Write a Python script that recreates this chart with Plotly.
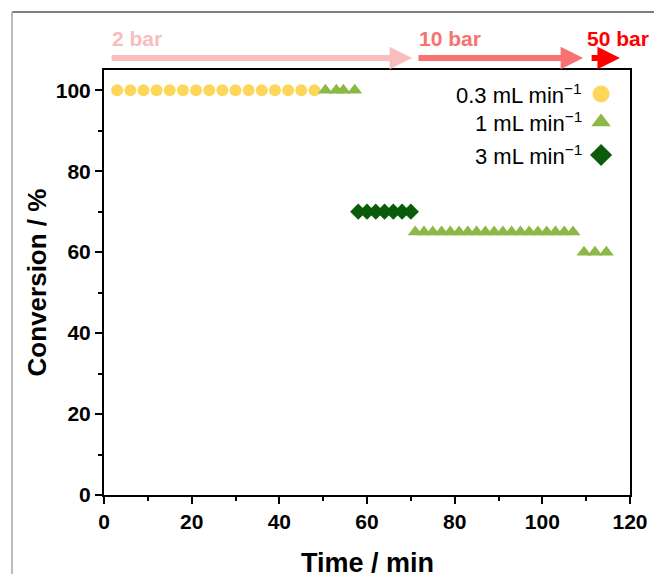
import plotly.graph_objects as go

# ---- data ----
t_03 = [3, 6, 9, 12, 15, 18, 21, 24, 27, 30, 33, 36, 39, 42, 45, 48]
c_03 = [100] * 16

t_1a = [50.5, 53, 54.6, 57.2]
c_1a = [100, 100, 100, 100]
t_1b = [71, 73, 75, 77, 79, 81, 83, 85, 87, 89, 91, 93, 95, 97, 99, 101, 103, 105, 107]
c_1b = [65] * 19
t_1c = [109.5, 112, 114.6]
c_1c = [60, 60, 60]

t_3 = [58, 60, 62, 64, 66, 68, 70]
c_3 = [70] * 7

labels = ["0.3 mL min<sup>−1</sup>", "1 mL min<sup>−1</sup>", "3 mL min<sup>−1</sup>"]
pressure_labels = ["2 bar", "10 bar", "50 bar"]
pressure_start = [1.4, 71.4, 110.9]
pressure_end = [70.3, 109.3, 117.7]
pressure_colors = ["#F9BDBD", "#F87272", "#FF0000"]

YELLOW = "#FDD75C"
LGREEN = "#8CB845"
DGREEN = "#0A5C0A"

FONT = "Liberation Sans, Arial"

fig = go.Figure()
fig.add_trace(go.Scatter(x=t_03, y=c_03, mode="markers",
                         marker=dict(symbol="circle", size=12, color=YELLOW), showlegend=False))
fig.add_trace(go.Scatter(x=t_1a + t_1b + t_1c, y=c_1a + c_1b + c_1c, mode="markers",
                         marker=dict(symbol="triangle-up", size=13, color=LGREEN), showlegend=False))
fig.add_trace(go.Scatter(x=t_3, y=c_3, mode="markers",
                         marker=dict(symbol="diamond", size=12.5, color=DGREEN), showlegend=False))

# legend drawn manually (symbol on the right of text)
leg_y = [0.9435, 0.8776, 0.80]
leg_sym = ["circle", "triangle-up", "diamond"]
leg_col = [YELLOW, LGREEN, DGREEN]
leg_size = [17, 17, 17]
for i in range(3):
    fig.add_trace(go.Scatter(x=[0.945], y=[leg_y[i]], xaxis="x2", yaxis="y2", mode="markers",
                             marker=dict(symbol=leg_sym[i], size=leg_size[i], color=leg_col[i]),
                             showlegend=False, hoverinfo="skip"))
    fig.add_annotation(x=0.913, y=leg_y[i], xref="paper", yref="paper", text=labels[i],
                       showarrow=False, xanchor="right", yanchor="middle",
                       font=dict(family=FONT, size=22, color="black"))

# pressure arrows
label_x = [1.4, 71.4, 109.8]
for i in range(3):
    fig.add_annotation(x=pressure_end[i], y=1.028, xref="x", yref="paper",
                       ax=pressure_start[i], ay=0, axref="x", ayref="pixel",
                       text="", showarrow=True, arrowhead=2, arrowsize=0.75, arrowwidth=6,
                       arrowcolor=pressure_colors[i])
    fig.add_annotation(x=label_x[i], y=1.075, xref="x", yref="paper",
                       text="<b>" + pressure_labels[i] + "</b>", showarrow=False,
                       xanchor="left", yanchor="middle",
                       font=dict(family=FONT, size=21, color=pressure_colors[i]))

# x-axis title placed as text near the bottom edge, as in the reference
fig.add_annotation(x=0.5, y=-0.16, xref="paper", yref="paper", text="<b>Time / min</b>",
                   showarrow=False, xanchor="center", yanchor="middle",
                   font=dict(family=FONT, size=27, color="black"))

axis_font = dict(family=FONT, size=21, color="black")
fig.update_layout(
    width=654, height=574,
    margin=dict(l=104, r=24, t=70, b=79),
    plot_bgcolor="white", paper_bgcolor="white",
    xaxis=dict(range=[0, 120], tickvals=[0, 20, 40, 60, 80, 100, 120],
               ticktext=["<b>%d</b>" % v for v in [0, 20, 40, 60, 80, 100, 120]],
               ticks="outside", ticklen=7, tickwidth=2, tickcolor="black",
               minor=dict(ticks="outside", ticklen=4, tickwidth=2, tickcolor="black", dtick=10),
               showline=True, linewidth=2, linecolor="black", mirror=True,
               showgrid=False, zeroline=False, tickfont=axis_font, automargin=False),
    yaxis=dict(range=[0, 105], tickvals=[0, 20, 40, 60, 80, 100],
               ticktext=["<b>%d</b>" % v for v in [0, 20, 40, 60, 80, 100]],
               ticks="outside", ticklen=7, tickwidth=2, tickcolor="black",
               minor=dict(ticks="outside", ticklen=4, tickwidth=2, tickcolor="black", dtick=10),
               showline=True, linewidth=2, linecolor="black", mirror=True,
               showgrid=False, zeroline=False, tickfont=axis_font, automargin=False,
               title=dict(text="<b>Conversion / %</b>", standoff=2,
                          font=dict(family=FONT, size=26, color="black"))),
    xaxis2=dict(range=[0, 1], overlaying="x", visible=False),
    yaxis2=dict(range=[0, 1], overlaying="y", visible=False),
    shapes=[
        dict(type="line", xref="paper", yref="paper", x0=-0.1749, x1=1.1, y0=1.1365, y1=1.1365,
             line=dict(color="#555555", width=1.5)),
        dict(type="line", xref="paper", yref="paper", x0=-0.1749, x1=-0.1749, y0=-0.3, y1=1.1365,
             line=dict(color="#BBBBBB", width=2)),
    ],
)

fig.write_html("out.html", config={"displayModeBar": False},
               post_script="document.body.style.margin='0';document.body.style.overflow='hidden';")
